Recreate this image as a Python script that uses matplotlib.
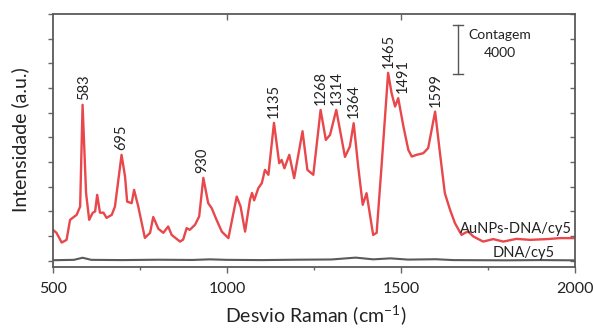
import matplotlib.pyplot as plt
import matplotlib.lines as mlines
from matplotlib.ticker import MultipleLocator

# Espectro AuNPs-DNA/cy5
raman_x = [500, 510, 525, 539, 549, 568, 578, 585, 595, 604, 614, 621, 627, 635,
           645, 654, 669, 678, 697, 707, 713, 726, 733, 745, 764, 779, 788, 803,
           817, 831, 841, 865, 874, 884, 893, 908, 920, 932, 946, 956, 970, 985,
           1004, 1028, 1039, 1052, 1066, 1072, 1078, 1090, 1100, 1109, 1119, 1135,
           1150, 1157, 1165, 1179, 1193, 1217, 1231, 1248, 1269, 1284, 1296, 1314,
           1339, 1353, 1364, 1377, 1390, 1401, 1420, 1430, 1444, 1463, 1473, 1483,
           1492, 1507, 1521, 1531, 1545, 1564, 1578, 1598, 1612, 1626, 1641, 1655,
           1674, 1684, 1693, 1708, 1736, 1765, 1794, 1832, 1871, 1919, 1957, 2000]
aunps = [2510, 2270, 1480, 1700, 3320, 3730, 4400, 12640, 5500, 3320, 3890, 4000, 5350, 3900,
         3900, 3480, 3730, 4400, 8590, 6830, 4800, 4670, 5750, 4400, 1860, 2270, 3550, 2590,
         2270, 2780, 2100, 1560, 1720, 2650, 2510, 2920, 3590, 6720, 4670, 4270, 3320, 2370,
         1840, 5210, 4400, 2370, 4940, 5500, 4900, 5890, 6290, 7370, 6970, 11180,
         7910, 8180, 7500, 8590, 6700, 10500, 7370, 6970, 12230, 9800, 10200, 12230,
         8420, 9260, 11150, 7640, 4540, 5480, 2100, 2270, 7640, 15230, 13580, 12500,
         13180, 10880, 8990, 8450, 8590, 8720, 9130, 12090, 8720, 5480, 4130, 3050,
         2100, 2270, 2370, 1970, 1560, 1760, 1560, 1780, 1700, 1760, 1840, 1840]

# Espectro DNA/cy5
dna_x = [500, 560, 585, 610, 700, 800, 900, 950, 1000, 1100, 1200, 1300, 1370,
         1420, 1470, 1520, 1600, 1650, 1800, 1900, 2000]
dna = [50, 80, 250, 80, 60, 90, 70, 120, 80, 60, 90, 110, 260,
       120, 200, 100, 130, 60, 40, 60, 40]

# Picos marcados
peaks = [583, 695, 930, 1135, 1268, 1314, 1364, 1465, 1491, 1599]
peak_heights = [12640, 8590, 6720, 11180, 12230, 12230, 11150, 15230, 13180, 12090]

plt.rcParams['font.family'] = ['Lato', 'DejaVu Sans']
plt.rcParams['mathtext.fontset'] = 'custom'
plt.rcParams['mathtext.rm'] = 'Lato'

fig = plt.figure(figsize=(5.93, 3.30), dpi=100)
ax = fig.add_axes([53 / 593, 1 - 267 / 330, 522 / 593, 253 / 330])

ax.plot(raman_x, aunps, color='#e8474b', linewidth=1.7, solid_joinstyle='round')
ax.plot(dna_x, dna, color='#5a5a5a', linewidth=1.5)

for p, h in zip(peaks, peak_heights):
    dx = 3.5 if p == 1491 else (1.5 if p == 583 else 0)
    ax.annotate(str(p), xy=(p, h), xytext=(dx, 3.5), textcoords='offset points',
                rotation=90, ha='center', va='bottom', fontsize=10.5, color='#222222')

# barra de escala
ax.plot([1664, 1664], [15100, 19100], color='#555555', linewidth=1)
ax.plot([1650, 1678], [15100, 15100], color='#555555', linewidth=1)
ax.plot([1650, 1678], [19100, 19100], color='#555555', linewidth=1)
ax.text(1785, 18300, 'Contagem', ha='center', va='center', fontsize=10, color='#222222')
ax.text(1785, 16800, '4000', ha='center', va='center', fontsize=10, color='#222222')

ax.text(1991, 2550, 'AuNPs-DNA/cy5', ha='right', va='center', fontsize=10.5, color='#222222')
ax.text(1943, 650, 'DNA/cy5', ha='right', va='center', fontsize=10.5, color='#222222')

ax.set_xlim(500, 2000)
ax.set_ylim(-500, 20000)
ax.xaxis.set_major_locator(MultipleLocator(500))
ax.xaxis.set_minor_locator(MultipleLocator(250))
ax.yaxis.set_major_locator(MultipleLocator(2000))
ax.set_yticklabels([])
ax.tick_params(axis='x', which='major', direction='out', length=4, width=1,
               color='#666666', labelsize=11.5, pad=7, top=True, labelcolor='#222222')
ax.tick_params(axis='x', which='minor', direction='out', length=2.5, width=1, color='#666666')
ax.tick_params(axis='y', which='major', direction='out', length=3.5, width=1,
               color='#666666', right=True)

fig.canvas.draw()
# ticks de cima (só 1000 e 1500) e da direita para dentro
for t, v in zip(ax.xaxis.get_major_ticks(), ax.get_xticks()):
    t.tick2line.set_marker(mlines.TICKDOWN)
    t.tick2line.set_visible(v in (1000, 1500))
for t in ax.yaxis.get_major_ticks():
    t.tick2line.set_marker(mlines.TICKLEFT)

for s in ax.spines.values():
    s.set_color('#5a5a5a')
    s.set_linewidth(1.3)

fig.text(316 / 593, 1 - 316 / 330, r'Desvio Raman (cm$^{\mathregular{-1}}$)',
         ha='center', va='center', fontsize=14, color='#222222')
fig.text(20 / 593, 1 - 140 / 330, 'Intensidade (a.u.)', rotation=90,
         ha='center', va='center', fontsize=14, color='#222222')

fig.savefig('out.png', dpi=100)
